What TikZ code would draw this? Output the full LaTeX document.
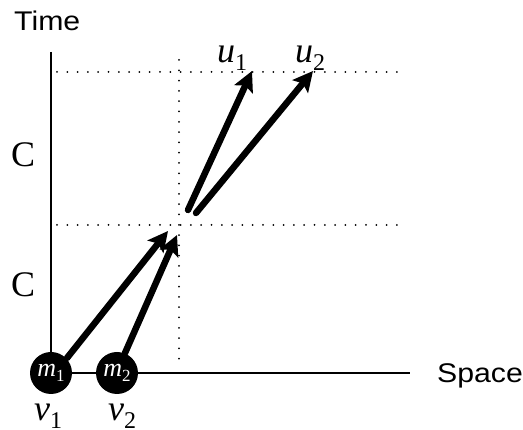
\documentclass[tikz,border=0pt]{standalone}
\usepackage{fontspec}
\setmainfont{Liberation Serif}
\newfontfamily\labsans{Liberation Sans}
\usetikzlibrary{arrows.meta}
\newcommand{\symlab}[2]{{\itshape #1}\raisebox{-0.2em}{\fontsize{24}{24}\selectfont #2}}
\newcommand{\masslab}[2]{{\itshape #1}\raisebox{-0.18em}{\fontsize{17}{17}\selectfont #2}}
\begin{document}
\begin{tikzpicture}[x=1pt,y=-1pt,
  axis/.style={line width=1.8pt},
  grid/.style={line width=2pt, dash pattern=on 0pt off 10.3pt, line cap=round},
  vec/.style={line width=6.5pt, line cap=round, -{Stealth[length=20pt,width=20pt,inset=4pt]}},
  mass/.style={circle, fill=black, minimum size=42pt, inner sep=0pt, text=white, font=\fontsize{26}{26}\selectfont},
  serif/.style={font=\fontsize{36}{36}\selectfont, inner sep=0pt, anchor=base west},
  sanslab/.style={font=\labsans\fontsize{27}{27}\selectfont, inner sep=0pt, anchor=base west}]
\useasboundingbox (0,0) rectangle (523,430);
% axes
\coordinate (o) at (51,373);
\coordinate (ytop) at (51,52);
\coordinate (xend) at (410,373);
\draw[axis] (ytop) -- (o) -- (xend);
% dotted grid
\coordinate (h1a) at (57,72);   \coordinate (h1b) at (405,72);
\coordinate (h2a) at (57,225);  \coordinate (h2b) at (405,225);
\coordinate (vda) at (179,60);  \coordinate (vdb) at (179,365);
\draw[grid] (h1a) -- (h1b);
\draw[grid] (h2a) -- (h2b);
\draw[grid] (vda) -- (vdb);
% masses
\node[mass] (m1) at (51,373) {\masslab{m}{1}};
\node[mass] (m2) at (117,373) {\masslab{m}{2}};
% vectors
\coordinate (s1) at (67,358);  \coordinate (t1) at (168,231);
\coordinate (s2) at (125,353); \coordinate (t2) at (177,235);
\coordinate (s3) at (188,210); \coordinate (t3) at (252,71);
\coordinate (s4) at (196,213); \coordinate (t4) at (313,71);
\draw[vec] (s1) -- (t1);
\draw[vec] (s2) -- (t2);
\draw[vec] (s3) -- (t3);
\draw[vec] (s4) -- (t4);
% labels
\node[sanslab] (time) at (14,31) {\scalebox{1.12}[1]{Time}};
\node[sanslab] (space) at (437,383) {\scalebox{1.12}[1]{Space}};
\node[serif] (c1) at (11,167) {C};
\node[serif] (c2) at (11,297) {C};
\node[serif] (v1) at (34,421) {\symlab{v}{1}};
\node[serif] (v2) at (108,421) {\symlab{v}{2}};
\node[serif] (u1) at (217,63) {\symlab{u}{1}};
\node[serif] (u2) at (295,63) {\symlab{u}{2}};
\end{tikzpicture}
\end{document}
